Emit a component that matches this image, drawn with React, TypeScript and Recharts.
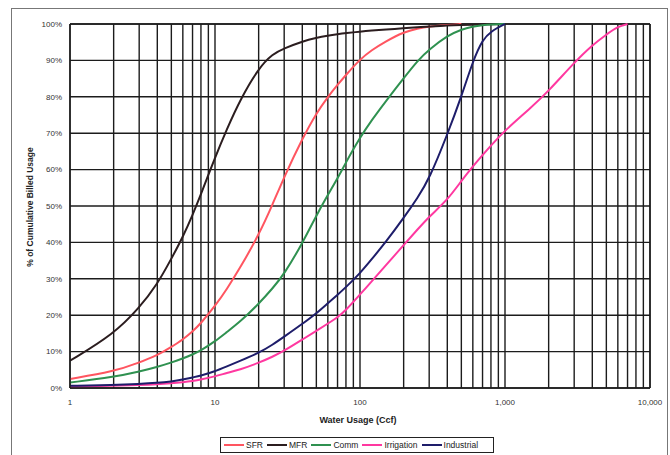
import { LineChart, Line, XAxis, YAxis, CartesianGrid, ReferenceLine } from 'recharts';

// water usage (Ccf) sample points on the log axis
const usage = [1, 2, 3, 4, 5, 6, 7, 8, 10, 12, 15, 20, 25, 30, 40, 50, 60, 70, 80, 100, 120, 150, 200, 250, 300, 400, 500, 600, 700, 800, 1000, 1500, 2000, 3000, 4000, 5000, 6000, 7000];

// % of cumulative billed usage per customer class (null once the curve has hit 100%)
const sfr = [2.5, 4.5, 7, 9, 11.3, 13.3, 15.5, 17.8, 22.5, 27, 33.2, 42, 50.5, 58, 68.5, 75.5, 80, 83.3, 86, 90.3, 92.8, 95.2, 97.8, 98.8, 99.3, 99.8, 100, null, null, null, null, null, null, null, null, null, null, null];
const mfr = [7.5, 14.8, 22, 28.5, 35.5, 41.5, 47.5, 53.2, 63.3, 70.9, 79.4, 87.9, 91.8, 93.3, 95.2, 96.2, 96.8, 97.2, 97.5, 97.9, 98.2, 98.5, 98.8, 99.1, 99.3, 99.6, 99.75, 99.82, 99.9, 99.95, 100, null, null, null, null, null, null, null];
const comm = [1.5, 3, 4.5, 5.8, 7, 8.1, 9.2, 10.3, 12.8, 15.3, 18.3, 23.1, 27.4, 31.3, 39.7, 47.4, 53.1, 57.6, 62, 68.8, 73.5, 78.7, 85.1, 90, 93, 96.8, 98.5, 99.3, 99.7, 99.9, 100, null, null, null, null, null, null, null];
const irrigation = [0.4, 0.6, 0.8, 1, 1.3, 1.6, 1.9, 2.3, 3.2, 4.1, 5.1, 6.9, 8.6, 10.2, 13.3, 15.7, 17.7, 19.4, 21.4, 25.7, 29.2, 33.6, 39.3, 43.6, 47.1, 51.6, 56.9, 60.9, 64, 66.6, 70.8, 76.9, 81.6, 89.4, 94.2, 97.1, 99.3, 100];
const industrial = [0.6, 0.8, 1.1, 1.4, 1.8, 2.3, 2.9, 3.4, 4.6, 5.9, 7.5, 9.6, 11.9, 14.1, 17.6, 20.5, 23.3, 25.6, 27.7, 31.5, 35.3, 40, 46.7, 52.3, 57.4, 69.6, 80, 89.8, 95.7, 98, 100, null, null, null, null, null, null, null];

const xTicks = [1, 10, 100, 1000, 10000];
const yTicks = [0, 10, 20, 30, 40, 50, 60, 70, 80, 90, 100];
const minorX = [2, 3, 4, 5, 6, 7, 8, 9, 20, 30, 40, 50, 60, 70, 80, 90, 200, 300, 400, 500, 600, 700, 800, 900, 2000, 3000, 4000, 5000, 6000, 7000, 8000, 9000];

const series = [
  { key: 'sfr', name: 'SFR', color: '#ff5560' },
  { key: 'mfr', name: 'MFR', color: '#2b1d1f' },
  { key: 'comm', name: 'Comm', color: '#2f9150' },
  { key: 'irrigation', name: 'Irrigation', color: '#ff38a0' },
  { key: 'industrial', name: 'Industrial', color: '#1e1d6a' },
];

const data = usage.map((x, i) => ({
  x,
  sfr: sfr[i],
  mfr: mfr[i],
  comm: comm[i],
  irrigation: irrigation[i],
  industrial: industrial[i],
}));

const FONT = '"Liberation Sans", Arial, sans-serif';
const GRID = '#1c1c1c';

const fmtX = (v: number) => v.toLocaleString('en-US');

export default function App() {
  return (
    <div style={{ position: 'fixed', left: 0, top: 0, width: 670, height: 455, background: '#fff', overflow: 'hidden', fontFamily: FONT }}>
      {/* outer frame */}
      <div style={{ position: 'absolute', left: 11, top: 8, width: 657, height: 460, border: '1px solid #777', boxSizing: 'border-box' }} />

      <div style={{ position: 'absolute', left: 0, top: 0 }}>
        <LineChart width={670} height={455} data={data} margin={{ top: 24, right: 20, bottom: 47, left: 8 }}>
          <CartesianGrid vertical={false} stroke={GRID} strokeWidth={1.4} />
          {[...minorX, ...xTicks].map((v) => (
            <ReferenceLine key={v} x={v} stroke={GRID} strokeWidth={1.4} />
          ))}
          <XAxis
            dataKey="x"
            type="number"
            scale="log"
            domain={[1, 10000]}
            ticks={xTicks}
            tickFormatter={fmtX}
            allowDataOverflow
            height={20}
            axisLine={{ stroke: GRID, strokeWidth: 1.4 }}
            tickLine={false}
            tickSize={0}
            tickMargin={11}
            tick={{ fontSize: 8, fill: '#333', fontFamily: FONT }}
          />
          <YAxis
            type="number"
            domain={[0, 100]}
            ticks={yTicks}
            tickFormatter={(v: number) => `${v}%`}
            width={62}
            axisLine={{ stroke: GRID, strokeWidth: 1.4 }}
            tickLine={false}
            tickSize={0}
            tickMargin={8}
            tick={{ fontSize: 8, fill: '#333', fontFamily: FONT }}
          />
          <ReferenceLine y={100} stroke={GRID} strokeWidth={1.4} />
          <ReferenceLine x={10000} stroke={GRID} strokeWidth={1.4} />
          {series.map((s) => (
            <Line
              key={s.key}
              dataKey={s.key}
              name={s.name}
              type="basis"
              stroke={s.color}
              strokeWidth={2}
              dot={false}
              isAnimationActive={false}
            />
          ))}
        </LineChart>
      </div>

      {/* axis titles */}
      <div style={{ position: 'absolute', left: 300, top: 415, width: 116, textAlign: 'center', fontSize: 9, fontWeight: 'bold', color: '#222' }}>
        Water Usage (Ccf)
      </div>
      <div
        style={{
          position: 'absolute',
          left: 30,
          top: 207,
          transform: 'translate(-50%, -50%) rotate(-90deg)',
          whiteSpace: 'nowrap',
          fontSize: 8.5,
          fontWeight: 'bold',
          color: '#222',
        }}
      >
        % of Cumulative Billed Usage
      </div>

      {/* legend */}
      <div
        style={{
          position: 'absolute',
          left: 220,
          top: 437,
          width: 274,
          height: 16,
          border: '1px solid #222',
          boxSizing: 'border-box',
          display: 'flex',
          alignItems: 'center',
          paddingLeft: 3,
          fontSize: 8.5,
          color: '#222',
        }}
      >
        {series.map((s) => (
          <div key={s.key} style={{ display: 'flex', alignItems: 'center', marginRight: 4 }}>
            <div style={{ width: 20, height: 2, background: s.color, marginRight: 2 }} />
            <span>{s.name}</span>
          </div>
        ))}
      </div>
    </div>
  );
}
